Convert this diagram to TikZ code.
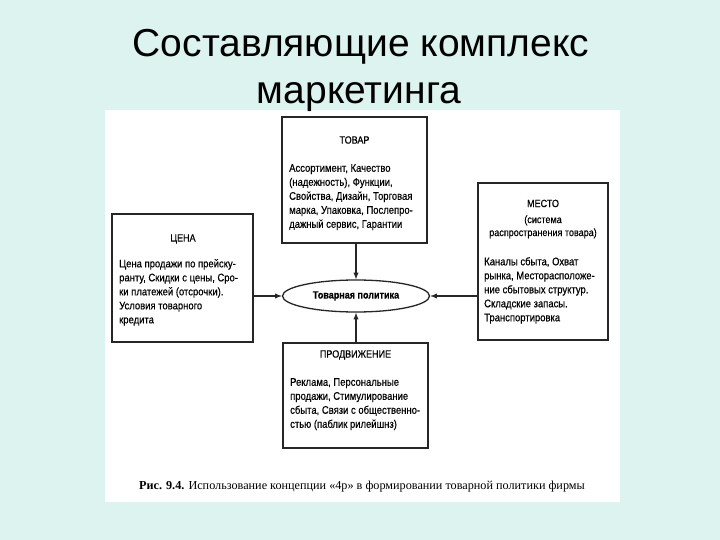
\documentclass[tikz,border=0pt]{standalone}
\usepackage{fontspec}
\setmainfont{Liberation Sans}
\newfontfamily\boxfont[FakeStretch=0.86,FakeBold=0.4]{Liberation Sans}
\newfontfamily\capfont{Liberation Serif}
\usetikzlibrary{positioning,shapes.geometric}
\definecolor{slidebg}{RGB}{220,243,239}

\begin{document}
\begin{tikzpicture}[x=1pt, y=-1pt,
  box/.style={draw=black!85, line width=1.4pt, fill=white, inner sep=0pt},
  head/.style={font=\boxfont\fontsize{10.5}{13}\selectfont, align=center, inner sep=0pt},
  txt/.style={font=\boxfont\fontsize{11}{14}\selectfont, align=left, inner sep=0pt, anchor=north west},
  arr/.style={-latex, line width=1.3pt, draw=black!85}]
  % slide and scanned figure
  \fill[slidebg] (0,0) rectangle (720,540);
  \fill[white] (105,110) rectangle (620,502);
  \node[font=\fontsize{39}{44}\selectfont] (title1) at (361,47) {Составляющие комплекс};
  \node[font=\fontsize{39}{44}\selectfont] (title2) at (359,97) {маркетинга};
  % the four boxes
  \node[box, minimum width=145pt, minimum height=126pt] (tovar) at (354.5,180) {};
  \node[box, minimum width=141pt, minimum height=128pt] (cena) at (182.5,278) {};
  \node[box, minimum width=130pt, minimum height=157pt] (mesto) at (543,261.5) {};
  \node[box, minimum width=145pt, minimum height=105pt] (prod) at (355.5,395.5) {};
  \node[draw=black!85, line width=1.3pt, ellipse, minimum width=147pt, minimum height=32pt,
    font=\boxfont\bfseries\fontsize{10.5}{11}\selectfont] (pol) at (356,296) {Товарная политика};
  % texts
  \node[head] (tovarh) at (354.5,140) {ТОВАР};
  \node[txt] (tovart) at (289,164) {Ассортимент, Качество\\(надежность), Функции,\\Свойства, Дизайн, Торговая\\марка, Упаковка, Послепро-\\дажный сервис, Гарантии};
  \node[head] (cenah) at (183,239) {ЦЕНА};
  \node[txt] (cenat) at (119,259) {Цена продажи по прейску-\\ранту, Скидки с цены, Сро-\\ки платежей (отсрочки).\\Условия товарного\\кредита};
  \node[head] (mestoh) at (543,219) {МЕСТО\\[3pt](система\\распространения товара)};
  \node[txt] (mestot) at (484,257) {Каналы сбыта, Охват\\рынка, Месторасположе-\\ние сбытовых структур.\\Складские запасы.\\Транспортировка};
  \node[head] (prodh) at (355.5,355) {ПРОДВИЖЕНИЕ};
  \node[txt] (prodt) at (290,378) {Реклама, Персональные\\продажи, Стимулирование\\сбыта, Связи с общественно-\\стью (паблик рилейшнз)};
  % arrows into the ellipse
  \draw[arr] (tovar.south -| pol.north) -- (pol.north);
  \draw[arr] (prod.north -| pol.south) -- (pol.south);
  \draw[arr] (cena.east |- pol.west) -- (pol.west);
  \draw[arr] (mesto.west |- pol.east) -- (pol.east);
  \node[font=\capfont\fontsize{12.2}{14}\selectfont] (capt) at (362,487) {\textbf{Рис. 9.4.} Использование концепции «4p» в формировании товарной политики фирмы};
\end{tikzpicture}
\end{document}
